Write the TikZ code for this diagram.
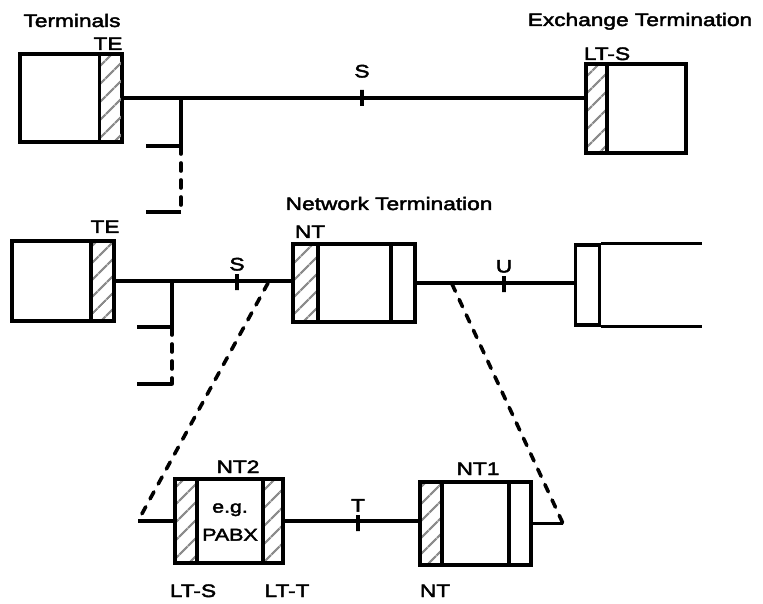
\documentclass[tikz,border=0pt]{standalone}
\usepackage{fontspec}
\setmainfont{Liberation Sans}[FakeStretch=1.26, FakeBold=2.5]
\usepackage{tikz}
\usetikzlibrary{positioning, patterns.meta, calc}

\begin{document}
\begin{tikzpicture}[
    x=1pt, y=-1pt,
    unit/.style={rectangle, draw, line width=3.4pt, inner sep=0pt},
    hatch/.style={rectangle, draw, line width=3.4pt, inner sep=0pt, pattern={Lines[angle=45, distance=13pt, line width=2.4pt]}, pattern color=black!45},
    plain/.style={rectangle, draw, line width=3.4pt, inner sep=0pt},
    boxline/.style={line width=3.4pt},
    wire/.style={line width=3.4pt},
    dashwire/.style={line width=3.6pt, dash pattern=on 8pt off 9pt, line cap=round},
    tick/.style={draw, line width=3.4pt, minimum width=0pt, minimum height=16pt, inner sep=0pt, label distance=7pt},
    lbl/.style={font=\fontsize{18}{20}\selectfont, inner sep=1.5pt}
]
\useasboundingbox (0,0) rectangle (763,604);

% Top row: terminal to exchange termination
\node[unit, minimum width=102, minimum height=88] (te1) at (71,98) {};
\node[hatch, minimum width=23, minimum height=88, anchor=east] (te1s) at (te1.east) {};
\node[lbl, anchor=base] (te1lbl) at (108,50) {TE};
\node[lbl, anchor=base] (termlbl) at (72,27) {Terminals};

\node[unit, minimum width=100, minimum height=89] (ex) at (636,108.5) {};
\node[hatch, minimum width=21, minimum height=89, anchor=west] (exs) at (ex.west) {};
\node[lbl, anchor=base] (exlbl) at (607,60) {LT-S};
\node[lbl, anchor=base] (exchlbl) at (640,26) {Exchange Termination};

\draw[wire] (te1.east) -- (te1.east -| ex.west);
\node[tick, label={[lbl, label distance=9pt]above:S}] (s1) at (362,98) {};

% Branch to further terminals
\coordinate (b1) at (181,98);
\coordinate (b1top) at (146,146);
\coordinate (b1bot) at (146,212);
\draw[wire] (b1) |- (b1top);
\draw[dashwire] (b1top -| b1) -- (b1bot -| b1);
\draw[wire] (b1bot -| b1) -- (b1bot);

% Middle row: terminal, network termination, exchange
\node[unit, minimum width=102, minimum height=80] (te2) at (63,281) {};
\node[hatch, minimum width=23, minimum height=80, anchor=east] (te2s) at (te2.east) {};
\node[lbl, anchor=base] (te2lbl) at (105,233) {TE};

\node[unit, minimum width=122, minimum height=78] (nt) at (354,283) {};
\node[hatch, minimum width=25, minimum height=78, anchor=west] (nts) at (nt.west) {};
\node[plain, minimum width=24, minimum height=78, anchor=east] (ntp) at (nt.east) {};
\node[lbl, anchor=base] (ntlbl) at (310,238) {NT};
\node[lbl, anchor=base west] (netlbl) at (284,210) {Network Termination};

\node[plain, minimum width=24, minimum height=80, anchor=west] (le) at (574,285) {};
\coordinate (leend) at (702,285);
\draw[boxline] (le.north east) -- (le.north east -| leend);
\draw[boxline] (le.south east) -- (le.south east -| leend);

\draw[wire] (te2.east) -- (te2.east -| nt.west);
\draw[wire] (nt.east) -- (nt.east -| le.west);
\node[tick, label={[lbl]above:S}] (s2) at (237,282) {};
\node[tick, label={[lbl]above:U}] (u) at (504,284) {};

\coordinate (b2) at (172,281);
\coordinate (b2top) at (137,327);
\coordinate (b2bot) at (137,384);
\draw[wire] (b2) |- (b2top);
\draw[dashwire] (b2top -| b2) -- (b2bot -| b2);
\draw[wire] (b2bot -| b2) -- (b2bot);

% Bottom row: NT split into NT2 and NT1
\node[unit, minimum width=108, minimum height=84] (nt2) at (229,521) {};
\node[hatch, minimum width=22, minimum height=84, anchor=west] (nt2l) at (nt2.west) {};
\node[hatch, minimum width=20, minimum height=84, anchor=east] (nt2r) at (nt2.east) {};
\node[lbl, align=center, font=\fontsize{17}{28}\selectfont] (pabx) at (230,522) {e.g.\\PABX};
\node[lbl, anchor=base] (nt2lbl) at (238,473) {NT2};
\node[lbl, anchor=base] (ltslbl) at (193,597) {LT-S};
\node[lbl, anchor=base] (ltlbl) at (287,597) {LT-T};

\node[unit, minimum width=111, minimum height=83] (nt1) at (475.5,523.5) {};
\node[hatch, minimum width=22, minimum height=83, anchor=west] (nt1s) at (nt1.west) {};
\node[plain, minimum width=22, minimum height=83, anchor=east] (nt1p) at (nt1.east) {};
\node[lbl, anchor=base] (nt1lbl) at (478,475) {NT1};
\node[lbl, anchor=base] (nt1bot) at (435,597) {NT};

\coordinate (zl) at (138,521);
\coordinate (zr) at (563,523.5);
\draw[wire] (zl) -- (nt2.west);
\draw[wire] (nt2.east) -- (nt2.east -| nt1.west);
\draw[wire] (nt1.east) -- (zr);
\node[tick, label={[lbl]above:T}] (t) at (358,523) {};

% Zoom lines
\coordinate (za) at (268,283);
\coordinate (zb) at (452,284);
\draw[dashwire] (za) -- (zl);
\draw[dashwire] (zb) -- (zr);
\end{tikzpicture}
\end{document}
